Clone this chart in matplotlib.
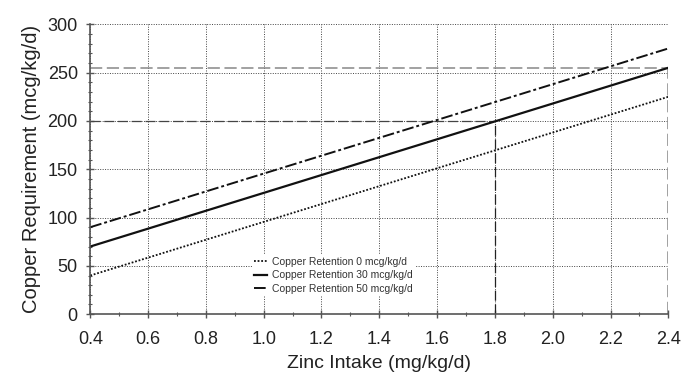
import numpy as np
import matplotlib.pyplot as plt
from matplotlib.ticker import MultipleLocator

plt.rcParams['font.family'] = ['Liberation Sans', 'DejaVu Sans']

# Copper requirement vs zinc intake, for three copper retention levels
zinc = [0.4, 2.4]
req_ret0 = [40, 225]
req_ret30 = [70, 255]
req_ret50 = [90, 275]
labels = ['Copper Retention 0 mcg/kg/d',
          'Copper Retention 30 mcg/kg/d',
          'Copper Retention 50 mcg/kg/d']

# reference guide lines
guide1 = (1.8, 200)
guide2 = (2.4, 255)

fig, ax = plt.subplots(figsize=(6.89, 3.74), dpi=100)
fig.subplots_adjust(left=0.131, right=0.97, top=0.935, bottom=0.16)

ax.grid(True, which='major', linestyle=(0, (1, 1.5)), color='#444444', linewidth=0.7)
ax.set_axisbelow(True)

# guide lines
ax.plot([0.4, guide1[0]], [guide1[1], guide1[1]], linestyle=(0, (8, 3)), color='#444444', linewidth=0.9)
ax.plot([guide1[0], guide1[0]], [0, guide1[1]], linestyle=(0, (8, 3)), color='#222222', linewidth=0.9)
ax.plot([0.4, guide2[0]], [guide2[1], guide2[1]], linestyle=(0, (8, 3)), color='#888888', linewidth=1.1)
ax.plot([guide2[0], guide2[0]], [0, guide2[1]], linestyle=(0, (8, 3)), color='#888888', linewidth=1.1)

l0, = ax.plot(zinc, req_ret0, linestyle=(0, (1, 1)), color='#111111', linewidth=1.3, label=labels[0])
l1, = ax.plot(zinc, req_ret30, linestyle='-', color='#111111', linewidth=1.6, label=labels[1])
l2, = ax.plot(zinc, req_ret50, linestyle=(0, (6, 1.5, 1.5, 1.5)), color='#111111', linewidth=1.4, label=labels[2])

ax.set_xlim(0.4, 2.4)
ax.set_ylim(0, 300)
ax.xaxis.set_minor_locator(MultipleLocator(0.1))
ax.yaxis.set_major_locator(MultipleLocator(50))
ax.yaxis.set_minor_locator(MultipleLocator(10))
ticks = np.arange(0.4, 2.41, 0.2)
ax.set_xticks(ticks)
ax.set_xticklabels(['%.1f' % v for v in ticks])

for side in ['top', 'right']:
    ax.spines[side].set_visible(False)
for side in ['left', 'bottom']:
    ax.spines[side].set_color('#555555')
    ax.spines[side].set_linewidth(1.2)

ax.tick_params(which='major', direction='inout', length=6, width=1, color='#555555',
               labelsize=13, labelcolor='#222222')
ax.tick_params(axis='x', which='major', pad=9)
ax.tick_params(axis='y', which='major', pad=6)
ax.tick_params(which='minor', direction='inout', length=3, width=0.8, color='#555555')

ax.set_xlabel('Zinc Intake (mg/kg/d)', fontsize=14, color='#222222', labelpad=5)
ax.set_ylabel('Copper Requirement (mcg/kg/d)', fontsize=14.5, color='#222222', labelpad=5)

leg = ax.legend(handles=[l0, l1, l2], loc='lower left', bbox_to_anchor=(0.27, 0.045),
                frameon=True, fontsize=7.5, handlelength=1.3, handletextpad=0.5,
                labelspacing=0.35, borderpad=0.2, framealpha=1)
leg.get_frame().set_edgecolor('white')
leg.get_frame().set_linewidth(0)
for t in leg.get_texts():
    t.set_color('#333333')

fig.savefig('out.png', dpi=100)
